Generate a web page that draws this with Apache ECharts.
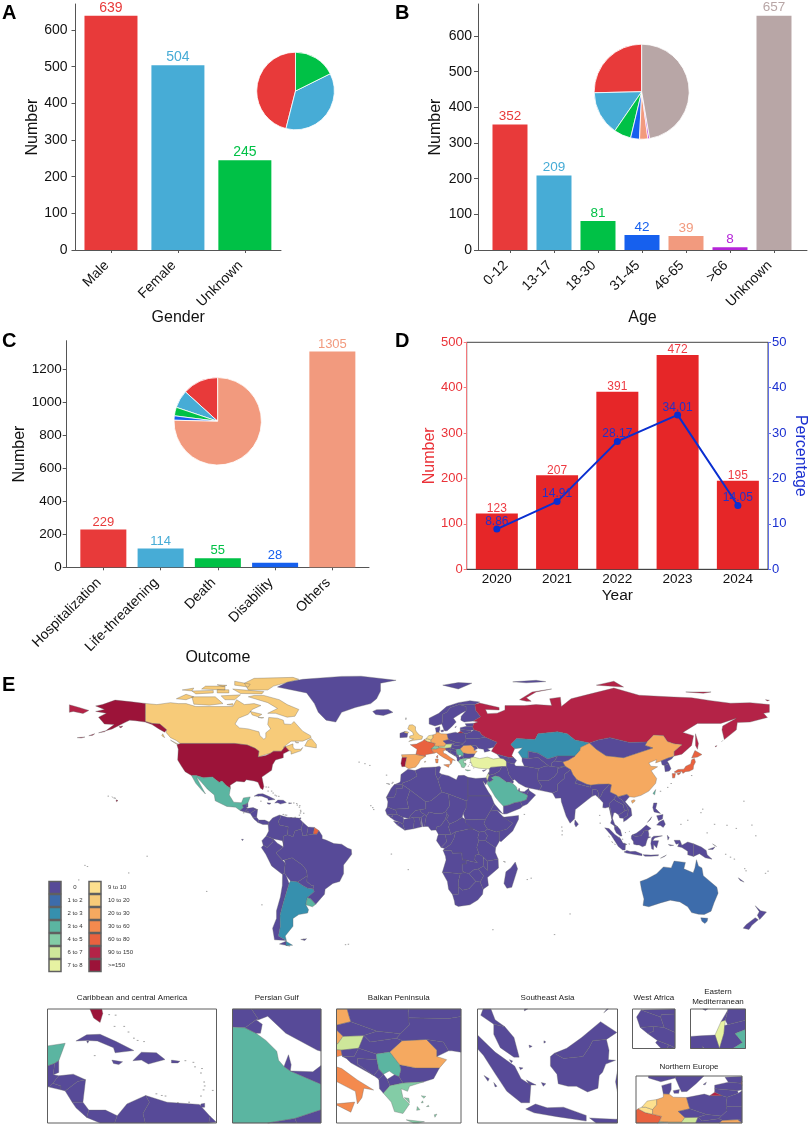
<!DOCTYPE html>
<html>
<head>
<meta charset="utf-8">
<title>Reports overview</title>
<script src="https://cdn.jsdelivr.net/npm/echarts@6/dist/echarts.min.js"></script>
<style>
html, body { margin: 0; padding: 0; background: #fff; }
#chart { width: 809px; height: 1129px; }
</style>
</head>
<body>
<div id="chart"></div>
<script>
// panel A
const genderNames = ['Male', 'Female', 'Unknown'];
const genderCounts = [639, 504, 245];
const genderTicks = [0, 100, 200, 300, 400, 500, 600];
// panel B
const ageNames = ['0-12', '13-17', '18-30', '31-45', '46-65', '>66', 'Unknown'];
const ageCounts = [352, 209, 81, 42, 39, 8, 657];
const ageTicks = [0, 100, 200, 300, 400, 500, 600];
// panel C
const outcomeNames = ['Hospitalization', 'Life-threatening', 'Death', 'Disability', 'Others'];
const outcomeCounts = [229, 114, 55, 28, 1305];
const outcomeTicks = [0, 200, 400, 600, 800, 1000, 1200];
// panel D
const years = ['2020', '2021', '2022', '2023', '2024'];
const yearCounts = [123, 207, 391, 472, 195];
const yearPercent = [8.86, 14.91, 28.17, 34.01, 14.05];

const palette = ['#e83a3a', '#47acd6', '#00c146', '#1660ee', '#f29a7e', '#b525d8', '#b8a6a6'];
const outcomeColors = ['#e83a3a', '#47acd6', '#00c146', '#1660ee', '#f29a7e'];

// panel E, map classes
const binLabels = ['0', '1 to 2', '2 to 3', '3 to 4', '4 to 5', '6 to 7', '7 to 8',
    '9 to 10', '10 to 20', '20 to 30', '30 to 60', '60 to 80', '90 to 150', '>=150'];
const binColors = ['#574a98', '#3d6cab', '#3690ae', '#5bb5a1', '#83cca6', '#cee79a', '#e7f2a2',
    '#fde08e', '#f7cb79', '#f5a960', '#f48a4e', '#e9623f', '#b42347', '#9c1339'];
const binCountries = {
    '1 to 2': ['Australia'],
    '2 to 3': ['Argentina', 'Kazakhstan'],
    '3 to 4': ['Mexico', 'Uruguay', 'Saudi Arabia', 'Serbia', 'Taiwan'],
    '4 to 5': ['Greece', 'Switzerland'],
    '6 to 7': ['Austria'],
    '7 to 8': ['Turkey', 'Israel'],
    '9 to 10': ['Netherlands', 'Belgium'],
    '10 to 20': ['Canada', 'United Kingdom'],
    '20 to 30': ['China', 'Germany', 'Spain', 'Romania'],
    '30 to 60': ['Italy'],
    '60 to 80': ['France', 'French Guiana', 'Japan'],
    '90 to 150': ['Russia'],
    '>=150': ['United States', 'Portugal']
};

// country outlines, lon,lat rings
const countryShapes = {
    'Canada': [
        '-141,69.6 -135,69 -128,70 -124,69.5 -120,69.5 -115,68 -108,68 -102,68 -96,68 -94,71.5 -90,69 -85,69.5 -81.5,68.5 -86,66.5 -88,64 -93,62 -94.8,59 -92.5,57 -88,56.5 -82.5,55 -82,53 -80,51.2 -79,52 -79,54.5 -76.5,56.5 -78,58.8 -77.5,62.4 -73,62 -70,61 -69.5,59 -66,58.8 -64.5,60.3 -62,57.5 -60,55.3 -56,53 -55.7,52 -60,50.2 -66,50.2 -70,47 -65,48.8 -65,47 -64,46 -61,46 -60,46.9 -61,45.2 -66,43.5 -66,45 -67,45.2 -69,47.4 -71,45 -75,45 -76.5,44 -79,43.3 -79,42.8 -83,42 -82.5,45 -84.5,46.5 -88.5,48.2 -95,49 -123,49 -125,50.5 -128,52 -130.3,54.7 -130,56 -133.5,59 -137.5,59.3 -141,60.3',
        '-80,73.7 -72,71.5 -68,69 -62,66.5 -64,63 -68,62.5 -74,64.5 -78,64.5 -73,67 -78,70 -88,73 -85,73.7',
        '-117,73 -105,73 -101,69.5 -108,68.7 -116,69.2', '-125,72 -120,74.3 -116,73 -120,71.5',
        '-90,80 -85,82.5 -65,83 -62,82 -75,78.5 -78,76.5 -88,76.5', '-96,77 -80,75.7 -81,74.5 -92,74.7',
        '-117,76 -106,76.3 -106,75 -115,74.5', '-95,81 -87,79.5 -88,78 -95,79', '-87,65.5 -81,64 -83,62.7 -86,63.7',
        '-59,47.7 -53,46.7 -53,48.5 -55.5,51.5 -57.5,50.5', '-128,50.7 -123.5,48.4 -125,48.7',
        '-102,73.5 -92,74 -95,71.5 -100,71.5', '-110,78.5 -100,78.5 -100,76.5 -112,77', '-132,54 -131,52 -132.5,53',
        '-122,76.5 -116,77.5 -117,76', '-104,76.7 -98,76.6 -98,75 -104,75', '-104,79.2 -99,78.9 -101,78.2', '-99,69 -96,69.5 -96,68.6',
        '-64,49.9 -62,49.4 -63,49.2', '-80,62.3 -83,62.4 -81,62'
    ],
    'United States': [
        '-123,49 -95,49 -88.5,48.2 -84.5,46.5 -82.5,45 -83,42 -79,42.8 -79,43.3 -76.5,44 -75,45 -71,45 -69,47.4 -67,45.2 -70,43.7 -70,41.7 -74,40.5 -75.5,38 -76,35.2 -81,31.7 -80,26.8 -80.5,25.2 -81.7,26 -83,29 -85,29.7 -89,30.3 -90,29.2 -94,29.6 -97.3,27.5 -97.2,25.9 -99.5,27.5 -101.5,29.7 -103,29 -106.5,31.8 -111,31.3 -114.8,32.5 -117.2,32.5 -120.5,34.5 -122.5,37.5 -124.3,40.5 -124,46 -124.7,48.4',
        '-141,69.6 -148,70.4 -156.5,71.3 -163,69 -166.5,68.3 -162,66.5 -166.5,65.5 -161,64.5 -165,62.5 -162,59 -157,58.7 -162,55 -165,54.5 -158,56.5 -153,59 -151,60 -149,61 -146,60.7 -141,60 -137.5,58.7 -134,56.5 -131,54.8 -130,56 -133.5,59 -137.5,59.3 -141,60.3',
        '-156,20 -155,19.6 -155.8,19', '-158.2,21.6 -157.7,21.3 -158.1,21.3', '-176,52 -172,52.3 -174,51.8', '-170,53 -167,54 -168,53.2', '-154.5,57.6 -152.5,58 -153.5,57'
    ],
    'Greenland': ['-73,78 -68,80.5 -60,82 -40,83.5 -30,83.6 -12,81.5 -20,80 -20,76 -22,72 -25,69.5 -33,67.5 -40,65 -43,60 -48,61 -52,65 -54,69.5 -58,75'],
    'Iceland': ['-24,65.5 -22,66.4 -16,66.5 -13.6,65 -18.5,63.4 -22.5,63.9'],
    'Mexico': ['-117.2,32.5 -114.8,32.5 -111,31.3 -106.5,31.8 -103,29 -101.5,29.7 -99.5,27.5 -97.2,25.9 -97.8,22.5 -95.5,18.8 -91.5,18.5 -90.5,21 -87,21.5 -88.2,18.4 -89,17.9 -91,17.2 -90.5,16 -92.2,14.5 -94.5,16.2 -99,16.6 -105,19.5 -105.5,22.5 -109,25.5 -112.5,29.5 -114.7,31.7 -112.5,27.5 -110,23 -112,25 -115,28.5'],
    'Belize': ['-89,17.9 -88.2,18.4 -88.2,16.3 -89.2,15.9'],
    'Guatemala': ['-92.2,14.5 -90.5,16 -91,17.2 -89,17.9 -89.2,15.9 -88.2,15.7 -89.3,14.4 -90,13.7'],
    'El Salvador': ['-90,13.7 -89.3,14.4 -87.8,13.9 -87.8,13.2'],
    'Honduras': ['-89.3,14.4 -88.2,15.7 -85.5,16 -83.2,15 -84.7,14.7 -87,13 -87.8,13.2 -87.8,13.9'],
    'Nicaragua': ['-87,13 -84.7,14.7 -83.2,15 -83.7,11 -85.7,11'],
    'Costa Rica': ['-85.7,11 -83.7,11 -82.6,9.6 -83,8.3 -85,10'],
    'Panama': ['-83,8.3 -82.6,9.6 -79.5,9.6 -77.3,8.6 -77.8,7.3 -80.5,7.3'],
    'Cuba': ['-85,21.9 -83,23 -80.5,23.1 -77.5,21.8 -74.2,20.2 -77.7,19.8 -78,20.7 -81,21.9 -83,22', '-83,21.9 -82.6,21.9 -82.8,21.5'],
    'Hispaniola': ['-74.4,18.4 -72.8,19.9 -70,19.8 -68.4,18.6 -71.5,17.8 -72.8,18.5'],
    'Jamaica': ['-78.3,18.5 -76.3,18.2 -77,17.7 -78,17.9'],
    'Puerto Rico': ['-67.2,18.5 -65.6,18.3 -66,18 -67.2,18'],
    'Trinidad': ['-61.7,10.7 -61,10.8 -61,10.1 -61.9,10.1'],
    'Colombia': ['-77.3,8.6 -75.5,10.7 -72,12.2 -71.3,11 -72.5,9 -72,7 -67.5,6.2 -67.8,2 -70,1.3 -69.5,-4.2 -70.5,-1 -75.3,0 -78.8,1.4 -77.5,4 -77.8,7.3'],
    'Venezuela': ['-72,12.2 -68,11 -62,10.6 -60,8.5 -60.7,5 -64,4 -65,1 -67.8,2 -67.5,6.2 -72,7 -72.5,9 -71.3,11'],
    'Guyana': ['-60,8.5 -57.2,6 -58,1.8 -60,1.5 -60.7,5'],
    'Suriname': ['-57.2,6 -54,5.8 -54.5,2.3 -58,1.8'],
    'French Guiana': ['-54,5.8 -51.7,4.2 -52.8,2.3 -54.5,2.3'],
    'Ecuador': ['-78.8,1.4 -75.3,0 -75.3,-1.5 -78.3,-4.5 -80.3,-3.4 -81,-1', '-91.5,-0.3 -90.5,-0.3 -91,-1'],
    'Peru': ['-81.3,-4.5 -80.3,-3.4 -78.3,-4.5 -75.3,-1.5 -75.3,0 -73,-2.3 -70,-4.2 -73.8,-7.3 -70.5,-11 -69,-12.5 -69.5,-17.5 -70.4,-18.4 -76,-14 -79,-8'],
    'Bolivia': ['-69.5,-17.5 -69,-12.5 -69.5,-11 -65.5,-9.8 -60.2,-13.5 -58,-16.3 -57.7,-19 -62.6,-22.2 -66.3,-21.8 -68.5,-19'],
    'Chile': ['-70.4,-18.4 -69.5,-17.5 -68.5,-19 -67,-23 -70,-33 -71.7,-39.5 -71.5,-45 -72.5,-50 -68.4,-52.3 -74.5,-52 -75.5,-46 -73.5,-41 -73.5,-37 -71.5,-30 -70.5,-24', '-68.6,-52.7 -68.6,-54.9 -66.5,-55.2 -72,-54.2'],
    'Argentina': ['-66.3,-21.8 -62.6,-22.2 -60,-24 -57.6,-25.3 -54.7,-25.7 -54,-27.2 -57.6,-30.2 -58.4,-34 -57,-36.5 -57.5,-38.2 -62,-39 -65,-41 -65,-45 -69,-50 -68.4,-52.3 -72.5,-50 -71.5,-45 -71.7,-39.5 -70,-33 -67,-23', '-68.6,-52.7 -65.2,-54.8 -68.6,-54.9'],
    'Uruguay': ['-58.4,-34 -57.6,-30.2 -56,-30.8 -53.3,-33.7 -55,-35'],
    'Paraguay': ['-62.6,-22.2 -57.7,-19 -57.9,-22 -55.5,-24 -54.3,-24 -54.7,-25.7 -57.6,-25.3 -60,-24'],
    'Brazil': ['-60.7,5 -60,1.5 -58,1.8 -54.5,2.3 -52.8,2.3 -51.7,4.2 -50,1.5 -50,0 -48,-0.7 -44,-2.5 -40,-2.8 -37,-4.8 -35,-5.5 -34.8,-8 -37,-11 -39,-13.5 -39,-18 -41,-22 -44.5,-23 -48.5,-26 -48.8,-28.5 -53.3,-33.7 -56,-30.8 -57.6,-30.2 -54,-27.2 -54.7,-25.7 -54.3,-24 -55.5,-24 -57.9,-22 -57.7,-19 -58,-16.3 -60.2,-13.5 -65.5,-9.8 -69.5,-11 -70.5,-11 -73.8,-7.3 -70,-4.2 -69.5,-4.2 -70,1.3 -67.8,2 -65,1 -64,4'],
    'Falklands': ['-61,-51.8 -58,-51.4 -59,-52.3'],
    'Portugal': ['-9.5,38.7 -8.9,41.9 -6.5,41.9 -7,39.5 -7.4,37.2 -9,37'],
    'Spain': ['-8.9,41.9 -9.2,43.2 -1.8,43.4 3.2,42.4 0.5,40.5 -0.3,38.8 -2,36.8 -5.5,36 -7.4,37.2 -7,39.5 -6.5,41.9', '2.4,39.5 3.3,39.9 3,39.3', '-17,28.4 -15.5,28.2 -16,27.9'],
    'France': ['-1.8,43.4 -1.2,46 -4.7,48.4 -1.5,48.7 1.5,50.2 2.5,51 4.2,50 6,49.6 8.2,49 7.6,47.6 6,46.2 7.6,44 3.2,43.2 3.2,42.4', '8.6,42 9.4,43 9.4,41.5'],
    'Belgium': ['2.5,51 3.4,51.4 4.3,51.4 6,50.8 6,49.6 4.2,50'],
    'Netherlands': ['3.4,51.4 4.7,53 7,53.4 7,52 6,50.8 4.3,51.4'],
    'Germany': ['7,53.4 8.6,54 8.6,54.9 10,54.8 11,54 14.2,53.9 14.7,52 15,51 12.2,50.3 13.8,48.7 13,47.5 9.6,47.5 7.6,47.6 8.2,49 6,49.6 6,50.8 7,52'],
    'Switzerland': ['6,46.2 7.6,47.6 9.6,47.5 10.4,46.8 8.5,46'],
    'Austria': ['9.6,47.5 13,47.5 13.8,48.7 17,48.8 16.2,46.8 13.5,46.5 10.4,46.8'],
    'Italy': ['7.6,44 6,46.2 8.5,46 10.4,46.8 13.5,46.5 13.7,45.7 12.3,45.3 12.4,44 13.6,43.6 16,41.8 18.5,40.2 17,40.5 16.7,39 16,38 15.7,40 12.5,41.7 10.5,43 8.8,44.4', '12.5,38 15.6,38.3 15,36.7', '8.2,41 9.7,41 9.5,39 8.5,39'],
    'United Kingdom': ['-5.5,50 -3,50.6 1.3,51.2 1.7,52.7 0,53.3 -1.5,55 -2,56 -2,57.6 -3.5,58.6 -5.2,58.5 -6,56.5 -3.5,54.8 -3,53.4 -5,52.8 -5,51.7 -3,51.4', '-8,54.5 -6,54.1 -5.5,54.7 -6.5,55.2 -7.4,55.2'],
    'Ireland': ['-10,52 -6.3,52.2 -6,54.1 -8,54.5 -7.4,55.2 -8.5,54.8 -10,54.2'],
    'Denmark': ['8.6,54.9 10,54.8 10.5,56 10.5,57.7 8.2,57', '11,55.7 12.5,56 12.3,55 11.2,55'],
    'Norway': ['5,59 5,62 10,64.5 14,68 20,70 26,71 31,70.3 28.5,69 25,69 20.5,69 16,67.5 14,65 12,64 12,61 11.5,59 8,58'],
    'Sweden': ['11.5,59 12,61 12,64 14,65 16,67.5 20.5,69 24,68 24,65.8 21.5,64.5 17.5,62 18.9,60 16.5,57.5 14.3,55.5 13,55.4 12.5,56.5', '18.2,57.3 19,57.9 18.7,57.2'],
    'Finland': ['24,65.8 24,68 20.5,69 25,69 28.5,69 29,66 31.5,62.8 27.8,60.5 23,60 21.3,61 21.5,63'],
    'Estonia': ['23.5,59.2 28,59.4 27.4,57.6 24.3,57.9'],
    'Latvia': ['21,57.1 24.3,57.9 27.4,57.6 28,56 26.5,55.7 21,56.2'],
    'Lithuania': ['21,56.2 26.5,55.7 26.7,55 24,54 22.8,54.4 21,55.3'],
    'Poland': ['14.2,53.9 18.5,54.8 19.8,54.4 22.8,54.4 24,54 23.8,52.5 24,50.5 22.6,49.1 19,49.5 15,51 14.7,52'],
    'Czechia': ['12.2,50.3 15,51 19,49.5 17,48.8 13.8,48.7'],
    'Slovakia': ['17,48.8 19,49.5 22.6,49.1 22,48.4 18,47.8'],
    'Hungary': ['16.2,46.8 17,48.8 18,47.8 22,48.4 22.9,48 21,46.2 18.9,45.9'],
    'Slovenia': ['13.7,45.5 13.5,46.5 16.2,46.8 15.5,45.5'],
    'Croatia': ['13.7,45.5 15.5,45.5 16.2,46.8 18.9,45.9 19,45 16,45.2 16,44.3 18.5,42.5 15,44.5 14.3,45.2'],
    'Bosnia': ['16,45.2 19,45 19.3,43.5 18.5,42.5 16,44.3'],
    'Serbia': ['18.9,45.9 21,46.2 22.5,44.2 22.7,43.4 22.4,42.3 21.7,42.6 20.9,43.2 20,42.7 19.3,43.5 19,45'],
    'Montenegro': ['18.5,42.5 19.3,43.5 20,42.7 19.3,41.9'],
    'Albania': ['19.3,41.9 20,42.7 20.6,41.9 21,40.9 20,39.7 19.4,40.4'],
    'Macedonia': ['20.6,41.9 21.7,42.6 22.4,42.3 23,41.3 21,40.9'],
    'Bulgaria': ['22.5,44.2 25,43.7 28.6,43.7 27.7,42 26.2,41.5 23,41.3 22.4,42.3 22.7,43.4'],
    'Romania': ['21,46.2 22.9,48 26.6,48.2 28.2,46.5 28.2,45.5 29.7,45 28.6,43.7 25,43.7 22.5,44.2'],
    'Moldova': ['26.6,48.2 29.2,47.8 30,46.4 28.2,45.5 28.2,46.5'],
    'Greece': ['20,39.7 21,40.9 23,41.3 26.2,41.5 24,40.8 23.7,40 22.7,40.4 23,39 24,38 23,36.5 21.7,36.8 21.2,38.3', '23.5,35.5 26.3,35.2 24.8,34.9', '25.8,39.3 26.5,39.2 26.2,38.9', '26,38.5 26.1,38.2 25.8,38.2', '26.9,37.8 27,37.6 26.6,37.6', '25.2,37.6 25.6,37.1 25.1,37', '27.8,36.3 28.2,36.4 27.9,35.9', '23.9,38.9 23.2,39 24,38.2'],
    'Ukraine': ['24,50.5 23.8,51.6 30,51.5 34,52.2 40,49.6 38.2,47.1 35,46.3 36.5,45.3 33.5,44.5 33,46 30.5,46.4 30,46.4 29.2,47.8 26.6,48.2 22.9,48 22,48.4 22.6,49.1'],
    'Belarus': ['23.8,52.5 24,54 26.7,55 28,56 31,55 32,53.5 34,52.2 30,51.5 23.8,51.6'],
    'Turkey': ['26.2,40 26.2,41.5 28,42 31,41.2 35,42 38,41 41.5,41.5 43.5,41 44.7,39.7 44.8,37.2 42.4,37.1 36.7,36.7 36,36 32.5,36.1 30.5,36.3 27.5,37'],
    'Russia': [
        '28.5,69 31,69.8 41,67.5 41,66.2 34,66.5 35,64.3 40,64.6 44,66.2 44,68.5 54,68.5 60,69 68,68.5 67,72 72.5,72.8 73,68 78,72 86,74 100,77.5 113,73.8 128,73 140,72.5 150,71 160,69.7 170,70 180,69 180,65 177,64.5 179,62.4 170,60 163.5,59.8 163,56 156.8,51 155.6,56 156,58 163,62 155,59.3 143,59.3 135.5,54.7 141,53 140,48 135,43.5 131,42.5 130.7,42.3 131,45 135,48.4 130.8,48.9 127.5,50 125.5,53 120.5,53.3 117,49.7 108,49.5 98,52 92,50.8 87.5,49.2 80,50.8 76,54 71,55 61,54 59.5,51 50,51.5 47,48.5 49,46.3 47.5,42.8 48.5,41.8 46,41.8 40,43.4 37,45 38.2,47.1 40,49.6 34,52.2 32,53.5 31,55 28,56 27.4,57.6 28,59.4 30,60 27.8,60.5 31.5,62.8 29,66',
        '-180,68.9 -175,67.5 -170,66 -173,64.4 -178,65.5 -180,65', '19.8,54.4 22.8,54.4 21,55.3', '142,54 143.5,49 143,46 142,48',
        '51.5,71.5 55,70.7 57.5,70.7 55,72.5 60,75.5 68,77 58,75.5', '91,79 105,78 100,81', '137,75.5 150,75.5 146,74.8', '178,71.5 180,71.2 179,70.9',
        '155.5,50 156,50.5 155.9,50', '152,47.5 153,47.9 152.5,47.2'
    ],
    'Kazakhstan': ['47,48.5 50,51.5 59.5,51 61,54 71,55 76,54 80,50.8 87.5,49.2 83,47 82.5,45.3 80,42.5 71,42.5 66,41 61,44 56,45 56,41.3 52.8,41.5 52,42.7 50.8,44.5 53,46.8 49,46.3'],
    'China': ['73.7,39.5 76.5,40.4 80,42.5 82.5,45.3 83,47 87.5,49.2 91,46 96,42.7 105,41.7 111,43.7 120,46.7 116,48 117,49.7 120.5,53.3 125.5,53 127.5,50 130.8,48.9 135,48.4 131,45 130.7,42.3 128,41.5 124.3,40 121.5,39 122,40.7 118,39 119,37.3 122.5,37 119.2,35 122,31 121.5,28.5 118,24.5 114,22.3 110.5,21.3 108,21.6 106.7,22.8 102,21.5 101.5,22.3 98,24 98.7,27.7 92,28 88.2,27.5 86,28 81,30.3 78.9,33 77.8,35.5 74.9,37.3', '109,19.5 110.5,20.1 111,19.4 109.5,18.2'],
    'Mongolia': ['87.5,49.2 92,50.8 98,52 108,49.5 117,49.7 116,48 120,46.7 111,43.7 105,41.7 96,42.7 91,46'],
    'North Korea': ['124.3,40 128,41.5 130.7,42.3 129.7,41 127.5,39.8 128.3,38.6 126,37.7 124.8,38'],
    'South Korea': ['126,37.7 128.3,38.6 129.4,36 128.5,34.8 126.4,34.5'],
    'Japan': ['131,34.3 133,35.6 136,35.8 137,37.3 139.5,38.5 140,40.6 141.4,41.3 142,39.5 141,37.5 140.8,35.7 138.8,34.7 136.8,34.5 135.5,33.6 135,34.6 132,33.9', '140,41.5 141.7,45.4 145.3,43.3 143,42', '130,33.5 131.7,33.5 131.3,31.3 130.2,31.2', '132.5,33.5 134.5,34.2 134,33.3 133,32.8'],
    'Taiwan': ['121.5,25.3 121,22.6 120.1,23.2'],
    'Turkmenistan': ['52.8,41.5 56,41.3 61,41.8 66.5,37.4 64.5,37.3 61.2,36 54,37.3 52.8,39.8'],
    'Uzbekistan': ['56,41.3 56,45 61,44 66,41 71,42.5 69.5,40 68,39 67.8,37.1 66.5,37.4 61,41.8'],
    'Kyrgyzstan': ['71,42.5 80,42.5 76.5,40.4 73.7,39.5 69.5,40'],
    'Tajikistan': ['68,39 69.5,40 73.7,39.5 74.9,37.3 71.5,36.8 67.8,37.1'],
    'Azerbaijan': ['44.8,39.7 46,41 46,41.8 48.5,41.8 50,40.3 48.8,38.4 46.5,39'],
    'Armenia': ['43.5,41 46,41 46.5,39 44.8,39.7'],
    'Georgia': ['40,43.4 46,41.8 46,41 43.5,41 41.5,41.5'],
    'Iran': ['44.8,39.7 46.5,39 48.8,38.4 49.5,37.4 54,37.3 61.2,36 60.9,33.5 60.9,31.5 61,29.8 63,27 61.5,25 57,26 54.5,26.6 51,28.5 49,30.4 48,30 46,33 45.5,35 44.8,37.2'],
    'Iraq': ['44.8,37.2 45.5,35 46,33 48,30 47.7,30 46.5,29.1 44.7,29.2 41,31.9 39,32.3 38.8,33.4 41.2,34.8 42.4,37.1'],
    'Syria': ['36,36 36.7,36.7 42.4,37.1 41.2,34.8 38.8,33.4 36,32.7 35.7,33.3 36,34.6'],
    'Lebanon': ['35.1,33.1 35.7,33.3 36,34.6 35.9,34.7'],
    'Israel': ['34.3,31.3 34.9,29.5 35.5,31.5 35.6,32.6 35.7,33.3 35.1,33.1'],
    'Jordan': ['34.9,29.5 36.2,29.2 38,30.3 37,31.5 39,32.3 38.8,33.4 36,32.7 35.6,32.6 35.5,31.5'],
    'Saudi Arabia': ['34.9,29.5 36.2,29.2 38,30.3 37,31.5 39,32.3 41,31.9 44.7,29.2 46.5,29.1 47.7,28.5 48.8,27.7 50,26.5 50.2,25.5 50.8,24.8 51.5,24.3 55.2,22.7 55.7,22 55,20 52,19 49,18.5 46,17.3 43.2,16.7 42.7,16.4 41,19 39,21.5 37.2,24.5 35,28'],
    'Qatar': ['50.8,24.8 51.3,26.1 51.6,25 51.5,24.3'],
    'Kuwait': ['46.5,29.1 47.7,30 48.4,29.5 48.2,28.5 47.7,28.5'],
    'UAE': ['51.5,24.3 54,24.2 56.3,26 56.4,24.8 55.9,24 55.2,22.7'],
    'Oman': ['55.2,22.7 55.9,24 56.4,24.8 59.8,22.5 58,20.5 55.5,17.8 53,16.7 52,19 55,20 55.7,22'],
    'Yemen': ['43.2,12.7 45,12.8 52,15.7 53,16.7 52,19 49,18.5 46,17.3 43.2,16.7'],
    'Afghanistan': ['61.2,36 64.5,37.3 66.5,37.4 67.8,37.1 71.5,36.8 74.9,37.3 71,36 71,34 69.3,31.9 66.3,29.8 61,29.8 60.9,31.5 60.9,33.5'],
    'Pakistan': ['61.5,25 63,27 61,29.8 66.3,29.8 69.3,31.9 71,34 71,36 74.9,37.3 77.8,35.5 74.5,33 74.5,31 71,28 71,24.5 68.5,23.5 67.5,23.8'],
    'India': ['77.8,35.5 78.9,33 81,30.3 80,28.5 88,26.5 88.2,27.5 92,28 97.3,28.2 97,27 94.5,24.5 93.3,22 92.3,20.9 92,23.5 91.5,25 89,25.5 88.8,21.8 86.5,20 82,16.5 80.2,15 79.8,10.3 77.5,8 75.5,11.5 73,19 72.8,21 70,20.8 68.5,23.5 71,24.5 71,28 74.5,31 74.5,33'],
    'Nepal': ['80,28.5 81,30.3 86,28 88.2,27.5 88,26.5'],
    'Bangladesh': ['88.8,21.8 89,25.5 91.5,25 92,23.5 92.3,20.9 90.5,22.5'],
    'Sri Lanka': ['80,9.7 81.8,7.5 80.5,6 79.8,7.5'],
    'Myanmar': ['97.3,28.2 98.7,27.7 98,24 101.5,22.3 100,20.4 97.5,18 98.5,14 99,10 98.5,12 97.5,16.3 95.5,15.8 94.3,16 94.5,18.5 92.3,20.9 93.3,22 94.5,24.5 97,27'],
    'Thailand': ['100,20.4 101,19.5 104.8,17.5 105.5,14.3 102.5,12.2 100.9,13.4 100,13.4 99.3,10.5 100.5,7.3 102,6.2 100.3,6.6 98.3,8 99,10 98.5,14 97.5,18'],
    'Laos': ['100,20.4 101.5,22.3 102,21.5 104,20 106.5,17 107.5,15 105.5,14.3 104.8,17.5 101,19.5'],
    'Vietnam': ['102,21.5 106.7,22.8 108,21.6 105.8,19 108.8,15.5 109.3,12 106.5,9.6 105,8.7 105,10.5 107,12 107.5,15 106.5,17 104,20'],
    'Cambodia': ['102.5,12.2 105.5,14.3 107.5,15 107,12 105,10.5 103,10.7'],
    'Malaysia': ['100.3,6.6 102,6.2 103.4,4.5 104.2,1.4 103.4,1.4 101.3,2.9 100.3,5', '109.6,2 111.5,2.8 113.8,4.5 116.7,7 119.2,5.3 117.6,4.2 115.5,4 115,3 114,1.5 111,1.2'],
    'Indonesia': [
        '95.3,5.6 97.5,5.2 100.5,2.2 103.5,0 104.5,-2 106,-3 105.8,-5.8 104.5,-5.8 102.3,-4 100.5,-1.2 98.7,1.7',
        '105.2,-6.8 106.7,-6 108.5,-6.6 111,-6.5 114.5,-7.8 114.5,-8.7 110,-8 106.5,-7.4', '115,-8.2 116.5,-8.3 119,-8.4 123,-8.2 122.8,-8.8 119,-9 116,-9',
        '109,1.5 109.6,2 111,1.2 114,1.5 115,3 115.5,4 117.6,4.2 118,2.5 117.9,1 119,0.9 117.5,0.3 117,-1 116.5,-1.5 116.3,-3.5 114.7,-4.1 113,-3.2 111.7,-3.2 110.2,-2.8 110,-1.3 109,0',
        '119.5,0.5 120.5,1.3 125,1.5 121,0.4 120,-1 123,-1 122,-4.8 120.5,-3 120.4,-5.6 119.5,-5.3 119,-2.5',
        '131,-0.8 134,-0.8 135,-3.3 138,-1.7 141,-2.6 141,-9.1 138,-8.3 138,-6.5 135,-4.5 132.8,-4 133.5,-2.5 132,-2.8',
        '127.5,1.8 128.5,0.5 127.8,-0.7', '128,-3 130.8,-3.4 129,-3.6', '105.3,-2.2 106.8,-3 105.8,-3', '107.6,-2.6 108.3,-2.8 107.9,-3.2', '97.2,1.3 97.9,0.8 97.7,0.5', '98.8,-1.5 99.6,-2 99.4,-2.4', '100.3,-2.6 100.8,-3.2 100.5,-3.3', '104.2,-0.2 104.8,-0.3 104.4,-0.6', '102.7,1 103.2,0.8 103,0.5', '108,4 108.3,3.8 108,3.6', '105.7,3.3 106.2,3.1 105.8,2.9'
    ],
    'Philippines': ['120.5,18.4 122.2,18.4 121.5,15.5 124,13 120.7,13.8 120,16', '122,7 123.5,8.7 125.5,9.7 126.5,7.5 125.4,5.8 124,6.8', '122,11.8 125.3,12.5 125,10.2 123,9.3', '117.2,8.4 119.5,11.3 118.8,9.8'],
    'Papua New Guinea': ['141,-2.6 145,-4.3 147.5,-6 148,-8.2 150.5,-10.5 147,-9.8 144,-7.7 141,-9.1', '148.5,-5.5 152,-4.2 151,-5.5', '150.8,-2.7 152.8,-4 151.5,-3.2'],
    'Timor': ['124,-10 127,-8.4 126,-9.2'],
    'Australia': ['113.5,-22 114.2,-26 115.5,-31 115,-34.3 118,-35 124,-33 129,-31.6 134,-32.5 138,-35 140,-38 143.5,-38.8 146.5,-39 150,-37.3 151.5,-33 153.6,-28 153,-25 149.5,-22 146,-19 145.3,-15 143.5,-14 142.5,-10.8 141.7,-15 140.8,-17.5 136,-15.5 136.8,-12.2 131,-11.5 129.5,-15 125.5,-14.5 122,-18 117,-20.7', '144.7,-40.7 148.3,-40.9 148,-42.5 146.8,-43.6 145.3,-42.5'],
    'New Zealand': ['172.7,-34.5 175.5,-37 178.5,-37.7 176.9,-39.5 175,-41.6 173.8,-39.3 174.8,-37.5', '172.7,-40.6 174.3,-41.7 171,-44.5 169.5,-46.7 166.5,-46 168,-44.2'],
    'New Caledonia': ['164,-20.1 167,-22.3 165,-21.5'],
    'Svalbard': ['12,79 20,80.3 27,80 20,77', '48,80.7 60,81.5 65,80.8 55,80.2'],
    'Cyprus': ['32.3,35 34.5,35.6 33,34.6'],
    'Morocco': ['-9.7,30 -9.5,33 -5.9,35.8 -2.2,35.1 -1.2,32.2 -5,30 -8.7,28.7 -8.7,27.7 -13,27.7 -10,29'],
    'Western Sahara': ['-13,27.7 -8.7,27.7 -8.7,26 -12,26 -12,23.4 -13,21.3 -17,21.3 -14.5,26'],
    'Algeria': ['-2.2,35.1 1,36.5 8.5,36.9 8.3,33 9.5,30.2 11.5,24 6,19.5 3.2,19 -4.8,25 -8.7,27.7 -8.7,28.7 -5,30 -1.2,32.2'],
    'Tunisia': ['8.5,36.9 10.2,37.3 11,36.8 10.2,34 11.5,33.2 9.5,30.2 8.3,33'],
    'Libya': ['11.5,33.2 15.2,32.3 19,30.3 20,32.5 23,32.6 25,31.6 25,20 24,19.5 15,23 11.5,24 9.5,30.2'],
    'Egypt': ['25,31.6 29,31 32.3,31.2 34.3,31.3 34.9,29.5 34.2,27.8 32.6,29.8 33.8,27 35.5,24 36.9,22 25,22'],
    'Sudan': ['25,22 36.9,22 38.5,18 36.5,14.3 34,10 33,10 27,9.7 23.5,10 22.5,13 24,15.7 24,19.5 25,20'],
    'South Sudan': ['23.5,10 27,9.7 33,10 34,10 33.2,7.8 35,5 33.5,3.7 30.8,3.5 27.5,5 25,5 23.5,8.5'],
    'Eritrea': ['36.5,14.3 38.5,18 43,12.7 40,14.5'],
    'Ethiopia': ['34,10 36.5,14.3 40,14.5 42.8,11.5 43,11 48,8 45,5 42,4 39.5,3.5 35,5 33.2,7.8'],
    'Somalia': ['43,11 51,12 51,10 48,4 42,-1.5 41,-1 41,3.9 45,5 48,8'],
    'Kenya': ['35,5 39.5,3.5 41,3.9 41,-1.5 39.2,-4.7 34,-1 35,1.5 33.5,3.7'],
    'Uganda': ['30.8,3.5 33.5,3.7 35,1.5 34,-1 30.5,-1 30,0.5'],
    'Tanzania': ['30.5,-1 34,-1 39.2,-4.7 39,-7 40.5,-10.5 34.9,-11.5 33,-9.5 32.7,-9.2 30.7,-8 29.5,-4.5'],
    'DR Congo': ['12.2,-6 13,-5 16,-3 17.7,0 18.6,3.6 22,4.2 25,5 27.5,5 30.8,3.5 30,0.5 30.5,-1 29.5,-4.5 30.7,-8 28.7,-8.5 28.5,-11 30,-12.2 27,-11.8 24,-11 22,-11 21.8,-7.3 17,-7.5 16.5,-6'],
    'Congo': ['11.2,-4.5 13,-5 16,-3 17.7,0 18.6,3.6 16.2,2.2 13.3,2.2 14,-1.5'],
    'Gabon': ['9.3,1 9.8,2.2 13.3,2.2 14,-1.5 11.2,-4.5 8.8,-1'],
    'Cameroon': ['8.5,4.5 9.8,2.2 16.2,2.2 15,6 15.5,7.6 14,10 15,12 14.2,12.8 13.3,10 11,6.7 8.8,6'],
    'Central African Republic': ['15,6 16.2,2.2 18.6,3.6 22,4.2 25,5 27.5,5 23.5,8.5 23.5,10 22,11 18.8,9 15.5,7.6'],
    'Chad': ['14.2,12.8 13.5,14 15.5,17 15,23 24,19.5 24,15.7 22.5,13 22,11 18.8,9 15.5,7.6 14,10 15,12'],
    'Niger': ['3.6,11.7 2.8,12.5 1,13.3 0.2,14.9 3.3,15.4 3.2,19 6,19.5 11.5,24 15,23 15.5,17 13.5,14 12,13.1 8,13 5,13.7'],
    'Nigeria': ['2.7,6.3 3,9 3.6,11.7 5,13.7 8,13 12,13.1 13.5,14 14.2,12.8 13.3,10 11,6.7 8.8,6 8.5,4.5 6,4.3 4.5,6.3'],
    'Benin': ['1.7,6.2 2.7,6.3 3,9 3.6,11.7 2.8,12.5 1,11'],
    'Togo': ['1.2,6.1 1.7,6.2 1,11 0,11 0.5,8'],
    'Ghana': ['-3.1,5.1 1.2,6.1 0.5,8 0,11 -2.9,11 -2.7,9'],
    'Burkina Faso': ['-5.5,10.4 -2.9,11 0,11 1,11 2.8,12.5 1,13.3 0.2,14.9 -2,14.5 -4.5,12'],
    'Mali': ['-12.2,14.7 -11.4,12.4 -8.5,11 -5.5,10.4 -4.5,12 -2,14.5 0.2,14.9 3.3,15.4 3.2,19 -4.8,25 -6.5,20 -5.5,15.5 -12,15.3'],
    'Mauritania': ['-17,21.3 -13,21.3 -12,23.4 -12,26 -8.7,26 -8.7,27.7 -4.8,25 -6.5,20 -5.5,15.5 -12,15.3 -12.2,14.7 -16.5,16.3 -16.2,19'],
    'Senegal': ['-17.5,14.7 -16.5,16.3 -12.2,14.7 -11.4,12.4 -13.7,12.6 -16.7,12.4'],
    'Guinea-Bissau': ['-16.7,12.4 -13.7,12.6 -13.7,11.6 -15,11'],
    'Guinea': ['-15,11 -13.7,11.6 -13.7,12.6 -11.4,12.4 -8.5,11 -8,10 -8.5,7.6 -10.3,8.5 -12.9,9.5'],
    'Sierra Leone': ['-13.3,9 -12.9,9.5 -10.3,8.5 -11.4,7'],
    'Liberia': ['-11.4,7 -10.3,8.5 -8.5,7.6 -7.5,4.4'],
    'Ivory Coast': ['-7.5,4.4 -8.5,7.6 -8,10 -5.5,10.4 -2.9,11 -2.7,9 -3.1,5.1'],
    'Angola': ['12.2,-6 16.5,-6 17,-7.5 21.8,-7.3 22,-11 24,-11 24,-13 22,-13 22,-16.5 23.5,-17.5 20,-17.9 14,-17.4 11.8,-17.3 13.7,-11 13.4,-9'],
    'Zambia': ['22,-13 24,-13 24,-11 27,-11.8 30,-12.2 28.5,-11 28.7,-8.5 30.7,-8 32.7,-9.2 33,-11 33,-14 30.3,-15.6 28,-16 25.5,-17.9 23.5,-17.5 22,-16.5'],
    'Malawi': ['33,-9.5 34.9,-11.5 35,-16.5 33,-14 33,-11'],
    'Mozambique': ['34.9,-11.5 40.5,-10.5 40.7,-15 35,-20 35.5,-24 32.8,-26 32,-24 31.3,-22.3 33,-19 30.3,-15.6 33,-14 35,-16.5'],
    'Zimbabwe': ['25.5,-17.9 28,-16 30.3,-15.6 33,-19 31.3,-22.3 29,-22'],
    'Botswana': ['20,-17.9 23.5,-17.5 25.5,-17.9 29,-22 25.5,-25.7 22,-26.5 20,-24.7 20,-22 21,-18'],
    'Namibia': ['11.8,-17.3 14,-17.4 20,-17.9 21,-18 20,-22 20,-24.7 20,-28.5 17,-28.7 15,-26 14.4,-22'],
    'South Africa': ['17,-28.7 20,-28.5 20,-24.7 22,-26.5 25.5,-25.7 29,-22 31.3,-22.3 32,-24 32.8,-26 32.5,-28.5 30,-31.5 26,-34 20,-34.8 18.3,-34 18,-32'],
    'Madagascar': ['49.3,-12 50.5,-15.5 47.5,-25 45,-25.5 43.5,-23 44.5,-17 47,-15']
};

// tiny islands, drawn as specks
const speckIslands = [
    [-77.8, 24.5], [-77.6, 26.5], [-76, 24.5], [-75.2, 23.5], [-73.5, 22], [-72.3, 21.8], [-74.2, 22.4], [-78.8, 26.6],
    [-61.5, 17], [-61.7, 16.2], [-61.1, 14.6], [-61, 13.9], [-61.2, 13.2], [-59.5, 13.1], [-61.7, 12.1], [-62.8, 17.3], [-63.1, 18.1], [-64.6, 18.4],
    [-69, 12.2], [-70, 12.5], [-68.3, 12.1], [-81.5, 19.3], [-66, 10.9], [-63.9, 11],
    [-25.5, 37.7], [-28, 38.6], [-31, 39.4], [-16.9, 32.7], [-24, 16], [-23.5, 15], [-25, 17],
    [-15.5, 28], [-14, 28.5], [-13.6, 29], [-6.9, 62], [-7, 61.5],
    [-160, 21.9], [-157, 21], [-156.4, 20.8], [-172, -13.7], [-149.5, -17.6], [-140, -9], [-170.7, -14.3], [-175.2, -21.2],
    [-90.4, 13.3], [-109.4, -27.1], [-81, -34], [-36.5, -54.3], [-59.5, -51.7], [-38, -54.5],
    [55.5, -21], [57.5, -20.3], [44, -12], [43.5, -11.7], [54, 12.5], [73.5, 4], [73.4, 2], [73.2, 6], [92.7, 12], [93, 8],
    [168, -16.5], [167.3, -15.4], [160, -9.5], [157.5, -8], [162, -10.5], [178, -17.8], [179.3, -16.7], [166.9, 19.3], [171, 7],
    [145.7, 15.2], [144.8, 13.4], [134.5, 7.4], [138, 9.5], [151.8, 7.4], [158.2, 6.9], [163, 5.3], [173, 1.5], [148, 3],
    [127.7, 26.4], [129.5, 28.4], [124, 24.4], [140, 32.5], [69.5, -49.3], [77.5, -38.7], [37.8, -46.8], [-5.7, -15.9], [-14.4, -7.9]
];

// inset panels, box is west, north, east, south
const insetNames = ['Caribbean and central America', 'Persian Gulf', 'Balkan Peninsula', 'Southeast Asia', 'West Africa', 'Eastern\nMediterranean', 'Northern Europe'];
const insetBoxes = [[-90.3, 27.6, -58.8, 7.3], [45.1, 31.2, 54.9, 18.5], [12.8, 53, 31.9, 35], [97.8, 9, 119.3, -9], [-18.4, 16.5, -9, 7.7], [31, 34.8, 38.4, 29.5], [2, 59.5, 27.6, 47.3]];
const insetFrames = [[47.5, 1009, 169, 114], [232.5, 1009, 88.5, 114], [336.5, 1009, 124.5, 114], [477.5, 1009, 140, 114], [632.5, 1009, 42.5, 39.5], [690.5, 1009, 55, 39.5], [636, 1076, 106, 47]];
const insetTitleY = [998, 998, 998, 998, 998, 997, 1067];
const insetHidden = [[], [], ['Turkey'], [], [], [], []];

const parseRing = function (text) {
    return text.split(' ').map(pair => pair.split(',').map(Number));
}

// cut one ring against the inset box
const clipRing = function (ring, box) {
    const edges = [[0, box[0], 1], [0, box[2], -1], [1, box[3], 1], [1, box[1], -1]];
    let out = ring;
    edges.forEach(([axis, limit, sign]) => {
        const next = [];
        out.forEach((p, i) => {
            const q = out[(i + 1) % out.length];
            const pIn = (p[axis] - limit) * sign >= 0;
            const qIn = (q[axis] - limit) * sign >= 0;
            if (pIn) next.push(p);
            if (pIn !== qIn) {
                const t = (limit - p[axis]) / (q[axis] - p[axis]);
                next.push([p[0] + (q[0] - p[0]) * t, p[1] + (q[1] - p[1]) * t]);
            }
        });
        out = next;
    });
    return out;
}

const makeFeature = function (name, rings) {
    return {
        type: 'Feature',
        properties: { name: name },
        geometry: { type: 'MultiPolygon', coordinates: rings.map(r => [r.concat([r[0]])]) }
    };
}

const buildFeatures = function (box, hidden) {
    const features = [];
    for (let name in countryShapes) {
        if (hidden.indexOf(name) >= 0) continue;
        let rings = countryShapes[name].map(parseRing);
        if (box) rings = rings.map(r => clipRing(r, box)).filter(r => r.length > 2);
        if (rings.length) features.push(makeFeature(name, rings));
    }
    const size = box ? 0.16 : 0.35;
    let specks = speckIslands.map(([x, y]) => [[x - size, y], [x, y + size], [x + size, y], [x, y - size]]);
    if (box) specks = specks.map(r => clipRing(r, box)).filter(r => r.length > 2);
    if (specks.length) features.push(makeFeature('Specks', specks));
    return { type: 'FeatureCollection', features: features };
}

const mapRegions = [];
for (let label in binCountries) {
    binCountries[label].forEach(name => {
        mapRegions.push({ name: name, itemStyle: { areaColor: binColors[binLabels.indexOf(label)] } });
    });
}

const geoBase = function (map, bounds, rect, lineWidth) {
    return {
        map: map,
        silent: true,
        roam: false,
        aspectScale: 1,
        boundingCoords: bounds,
        left: rect[0],
        top: rect[1],
        width: rect[2],
        height: rect[3],
        label: { show: false },
        itemStyle: { areaColor: binColors[0], borderColor: '#666', borderWidth: lineWidth },
        emphasis: { disabled: true },
        select: { disabled: true },
        regions: mapRegions
    };
}

const textFont = '"Liberation Sans", Arial, sans-serif';

const barSeries = function (index, counts, colors, barWidth, labelSize) {
    return {
        type: 'bar',
        xAxisIndex: index,
        yAxisIndex: index,
        barWidth: barWidth,
        data: counts.map((v, i) => ({
            value: [i, v],
            itemStyle: { color: colors[i] },
            label: { color: colors[i] }
        })),
        label: {
            show: true,
            position: 'top',
            distance: 1,
            fontSize: labelSize,
            fontFamily: textFont,
            formatter: p => p.value[1]
        }
    };
}

const pieSeries = function (names, counts, colors, center, radius) {
    return {
        type: 'pie',
        center: center,
        radius: radius,
        startAngle: 90,
        clockwise: false,
        silent: true,
        label: { show: false },
        labelLine: { show: false },
        itemStyle: { borderColor: '#fff', borderWidth: 0.8 },
        data: counts.map((v, i) => ({ name: names[i], value: v, itemStyle: { color: colors[i] } }))
    };
}

const axisColor = '#555';
const tickText = '#111';

const barXAxis = function (index, names, min, max, title, nameGap) {
    return {
        type: 'value',
        gridIndex: index,
        min: min,
        max: max,
        name: title,
        nameLocation: 'middle',
        nameGap: nameGap,
        nameMoveOverlap: false,
        nameTextStyle: { fontSize: 16, color: '#111', fontFamily: textFont },
        splitLine: { show: false },
        axisLine: { show: true, onZero: false, lineStyle: { color: axisColor } },
        axisTick: { show: true, length: 3, lineStyle: { color: axisColor }, customValues: names.map((n, i) => i) },
        axisLabel: {
            rotate: 45,
            margin: 9,
            padding: [0, 6, 0, 0],
            fontSize: 14,
            color: tickText,
            fontFamily: textFont,
            customValues: names.map((n, i) => i),
            formatter: v => names[v]
        }
    };
}

const barYAxis = function (index, max, ticks, nameGap, labelSize, margin) {
    return {
        type: 'value',
        gridIndex: index,
        min: 0,
        max: max,
        name: 'Number',
        nameLocation: 'middle',
        nameGap: nameGap,
        nameMoveOverlap: false,
        nameTextStyle: { fontSize: 16, color: '#111', fontFamily: textFont },
        splitLine: { show: false },
        axisLine: { show: true, onZero: false, lineStyle: { color: axisColor } },
        axisTick: { show: true, length: 4, lineStyle: { color: axisColor }, customValues: ticks },
        axisLabel: { fontSize: labelSize, color: tickText, margin: margin, fontFamily: textFont, customValues: ticks, formatter: v => String(v) }
    };
}

// panel letters, legend, inset frames and titles
const graphics = [];
[['A', 2, 3], ['B', 395, 3], ['C', 2, 331], ['D', 395, 331], ['E', 2, 675]].forEach(([t, x, y]) => {
    graphics.push({ type: 'text', left: x, top: y, z: 20, style: { text: t, fontSize: 20, fontWeight: 'bold', fontFamily: textFont, fill: '#000' } });
});
binLabels.forEach((label, i) => {
    const col = i < 7 ? 0 : 1;
    const row = col ? i - 7 : i;
    graphics.push({
        type: 'rect', z: 20,
        shape: { x: col ? 89 : 49, y: 881.5 + row * 13, width: 12, height: 12 },
        style: { fill: binColors[i], stroke: '#606060', lineWidth: 1.5 }
    });
    graphics.push({
        type: 'text', z: 20,
        style: {
            text: label, x: col ? 108 : 75, y: 887.5 + row * 13,
            align: col ? 'left' : 'center', verticalAlign: 'middle',
            fontSize: 6, fontFamily: textFont, fill: '#333'
        }
    });
});
insetNames.forEach((label, i) => {
    const f = insetFrames[i];
    graphics.push({
        type: 'rect', z: 20,
        shape: { x: f[0], y: f[1], width: f[2], height: f[3] },
        style: { fill: 'none', stroke: '#5e5e5e', lineWidth: 1 }
    });
    graphics.push({
        type: 'text', z: 20,
        style: {
            text: label, x: f[0] + f[2] / 2, y: insetTitleY[i],
            align: 'center', verticalAlign: 'middle', lineHeight: 10,
            fontSize: 8, fontFamily: textFont, fill: '#222'
        }
    });
});

// register world map and the clipped inset maps
echarts.registerMap('world', buildFeatures(null, []));
const geoList = [geoBase('world', [[-180, 83.7], [180, -56]], [69.4, 676, 700, 271.6], 0.35)];
insetBoxes.forEach((box, i) => {
    echarts.registerMap('inset' + i, buildFeatures(box, insetHidden[i]));
    geoList.push(geoBase('inset' + i, [[box[0], box[1]], [box[2], box[3]]], insetFrames[i], 0.35));
});

const chart = echarts.init(document.getElementById('chart'), null, { renderer: 'canvas' });
chart.setOption({
    animation: false,
    backgroundColor: '#fff',
    textStyle: { fontFamily: textFont },
    grid: [
        { left: 75.5, top: 4, width: 205.5, height: 246 },
        { left: 478, top: 4, width: 329, height: 246 },
        { left: 66.7, top: 340.7, width: 302.3, height: 226.6 },
        { left: 466.7, top: 342.3, width: 305, height: 227, show: true, borderColor: '#444', borderWidth: 1 }
    ],
    xAxis: [
        barXAxis(0, genderNames, -0.53, 2.54, 'Gender', 60),
        barXAxis(1, ageNames, -0.727, 6.75, 'Age', 60),
        barXAxis(2, outcomeNames, -0.64, 4.64, 'Outcome', 82),
        {
            type: 'category',
            gridIndex: 3,
            data: years,
            name: 'Year',
            nameLocation: 'middle',
            nameGap: 18,
            nameTextStyle: { fontSize: 15.5, color: '#111', fontFamily: textFont },
            axisTick: { show: false },
            axisLine: { lineStyle: { color: '#444' } },
            axisLabel: { fontSize: 13.5, color: tickText, margin: 3, fontFamily: textFont }
        }
    ],
    yAxis: [
        barYAxis(0, 671, genderTicks, 35, 14, 8),
        barYAxis(1, 690, ageTicks, 34, 14, 6),
        barYAxis(2, 1371, outcomeTicks, 39, 13.5, 5),
        {
            type: 'value',
            gridIndex: 3,
            min: 0,
            max: 500,
            interval: 100,
            name: 'Number',
            nameLocation: 'middle',
            nameGap: 28,
            nameTextStyle: { fontSize: 16, color: '#ea3238', fontFamily: textFont },
            splitLine: { show: false },
            axisLine: { show: true, lineStyle: { color: '#f4787c' } },
            axisTick: { show: true, length: 3, lineStyle: { color: '#f4787c' } },
            axisLabel: { fontSize: 13, color: '#ea3238', margin: 4, fontFamily: textFont }
        },
        {
            type: 'value',
            gridIndex: 3,
            position: 'right',
            min: 0,
            max: 50,
            interval: 10,
            name: 'Percentage',
            nameLocation: 'middle',
            nameRotate: -90,
            nameGap: 24,
            nameTextStyle: { fontSize: 16, color: '#1a2fd0', fontFamily: textFont },
            splitLine: { show: false },
            axisLine: { show: true, lineStyle: { color: '#5f6ee8' } },
            axisTick: { show: true, length: 3, lineStyle: { color: '#5f6ee8' } },
            axisLabel: { fontSize: 13, color: '#1a2fd0', margin: 4, fontFamily: textFont }
        }
    ],
    geo: geoList,
    graphic: graphics,
    series: [
        barSeries(0, genderCounts, palette, 53, 14),
        barSeries(1, ageCounts, palette, 35, 13.5),
        barSeries(2, outcomeCounts, outcomeColors, 46, 13),
        {
            type: 'bar',
            xAxisIndex: 3,
            yAxisIndex: 3,
            barWidth: 42,
            data: yearCounts,
            itemStyle: { color: '#e62628' },
            label: { show: true, position: 'top', distance: 0, offset: [0, 1], fontSize: 12, color: '#ee3a42', fontFamily: textFont }
        },
        {
            type: 'line',
            xAxisIndex: 3,
            yAxisIndex: 4,
            data: yearPercent,
            z: 5,
            symbol: 'circle',
            symbolSize: 7,
            lineStyle: { color: '#0a2fd0', width: 2 },
            itemStyle: { color: '#0a2fd0' },
            label: { show: true, position: 'top', distance: 1, offset: [0, 3], fontSize: 12, color: '#2530c8', fontFamily: textFont }
        },
        pieSeries(genderNames, genderCounts, palette, [295.5, 91], 38.8),
        pieSeries(ageNames, ageCounts, palette, [641.7, 91.7], 47.5),
        pieSeries(outcomeNames, outcomeCounts, outcomeColors, [217.7, 421.3], 43.7)
    ]
});
</script>
</body>
</html>
